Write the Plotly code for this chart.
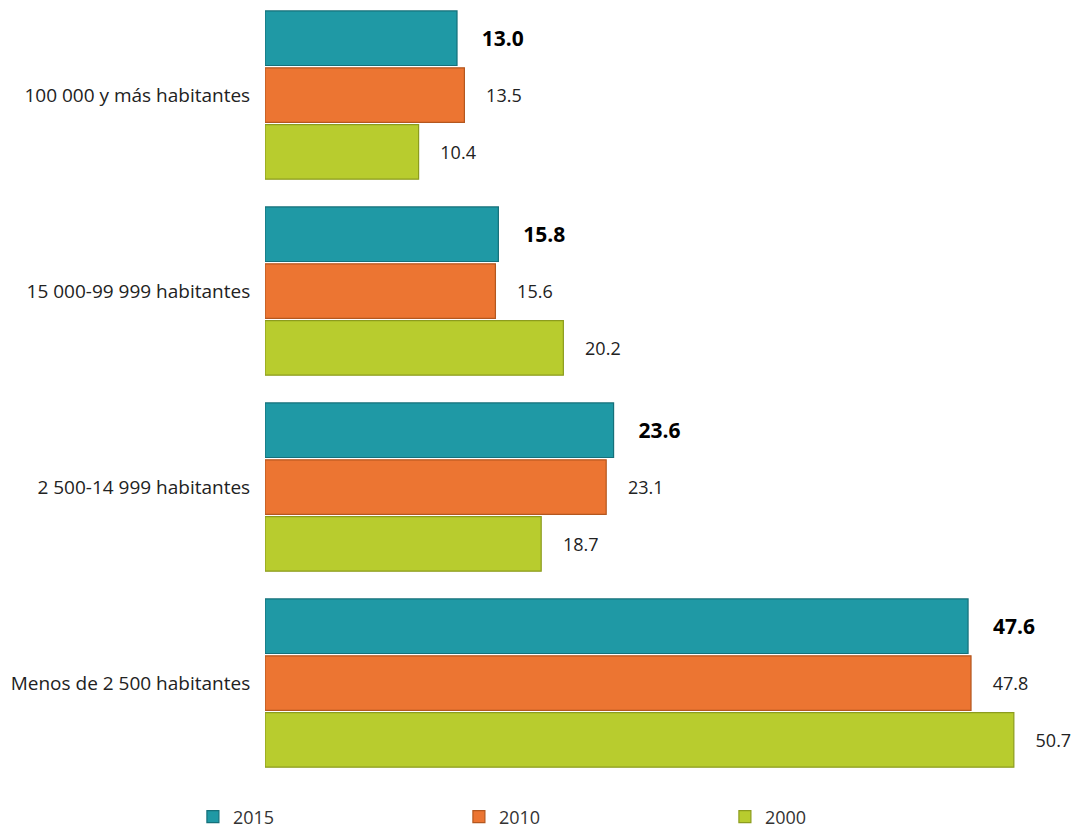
import plotly.graph_objects as go

categories = ["100 000 y más habitantes", "15 000-99 999 habitantes",
              "2 500-14 999 habitantes", "Menos de 2 500 habitantes"]
series_names = ["2015", "2010", "2000"]
v2015 = [13.0, 15.8, 23.6, 47.6]
v2010 = [13.5, 15.6, 23.1, 47.8]
v2000 = [10.4, 20.2, 18.7, 50.7]

values = [v2015, v2010, v2000]
fills = ["#1F99A5", "#EC7532", "#B8CC2E"]
edges = ["#15707A", "#B4571F", "#8C9C1E"]

fig = go.Figure()
for i, (name, vals) in enumerate(zip(series_names, values)):
    bold = (i == 0)
    pad = "\u00a0" * 4
    fig.add_trace(go.Bar(
        y=categories, x=vals, orientation="h", name=name,
        marker=dict(color=fills[i], line=dict(color=edges[i], width=1.2)),
        text=[pad + f"{v:.1f}" for v in vals],
        textposition="outside", constraintext="none", cliponaxis=False,
        textfont=dict(family="Open Sans", size=21 if bold else 18,
                      color="#000000" if bold else "#222222",
                      weight="bold" if bold else "normal"),
    ))

fig.update_layout(
    width=1075, height=829,
    margin=dict(l=265, r=0, t=0, b=45, autoexpand=False),
    barmode="group", bargap=0.13, bargroupgap=0.04,
    plot_bgcolor="white", paper_bgcolor="white",
    font=dict(family="Open Sans", color="#222222", size=18),
    showlegend=True,
    legend=dict(orientation="h", x=-0.089, xanchor="left", y=-0.042, yanchor="middle",
                entrywidth=221, entrywidthmode="pixels",
                font=dict(size=18, color="#333333"), traceorder="normal"),
    xaxis=dict(range=[0, 54.84], showgrid=False, zeroline=False, showticklabels=False,
               showline=False, ticks="", automargin=False),
    yaxis=dict(type="category", range=[3.515, -0.485], showgrid=False, zeroline=False,
               showline=False, ticks="outside", ticklen=10, tickcolor="white",
               automargin=False, tickfont=dict(size=19, color="#222222")),
)

fig.write_html("out.html", config={"displayModeBar": False},
               post_script="document.body.style.margin='0';document.body.style.overflow='hidden';")
